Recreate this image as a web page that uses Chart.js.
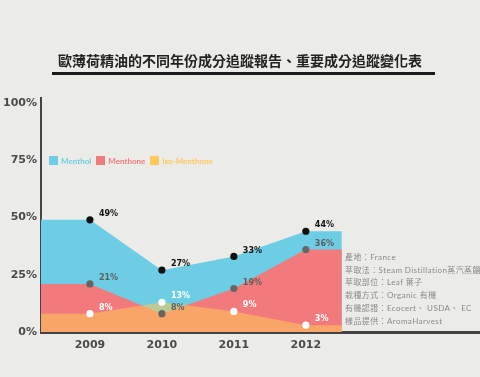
<!DOCTYPE html>
<html><head><meta charset="utf-8">
<script src="https://cdn.jsdelivr.net/npm/chart.js@4"></script>
<style>
html,body{margin:0;padding:0;background:#EBEBE7;}
#wrap{position:relative;width:480px;height:377px;overflow:hidden;background:#EBEBE7;}
canvas{position:absolute;left:0;top:0;}
#title{position:absolute;left:0;width:480px;top:50px;text-align:center;font:bold 14px "Noto Sans CJK TC";color:#222;line-height:20px;}
#uline{position:absolute;left:52px;top:72px;width:383px;height:3px;background:#1a1a1a;}
#legend{position:absolute;left:49px;top:155px;height:12px;font:bold 8px Lato,sans-serif;white-space:nowrap;}
#legend span.item{display:inline-block;margin-right:5px;line-height:12px;vertical-align:top;}
#legend span.sw{display:inline-block;width:9px;height:9px;margin-right:3px;vertical-align:-1px;}
#info{position:absolute;left:345px;top:251px;font:8px Lato,"Noto Sans CJK TC",sans-serif;color:#8a8a8a;line-height:12.7px;white-space:nowrap;letter-spacing:0.4px;}
</style></head>
<body>
<div id="wrap">
<canvas id="c" width="480" height="377"></canvas>
<div id="title"></div>
<div id="uline"></div>
<div id="legend"></div>
<div id="info"></div>
</div>
<script>
const titleText = '歐薄荷精油的不同年份成分追蹤報告、重要成分追蹤變化表';
const years = [2009, 2010, 2011, 2012];
const seriesNames = ['Menthol', 'Menthone', 'Iso-Menthone'];
const menthol = [49, 27, 33, 44];
const menthone = [21, 8, 19, 36];
const isoMenthone = [8, 13, 9, 3];
const yTicks = [0, 25, 50, 75, 100];
const infoLines = [
  '產地：France',
  '萃取法：Steam Distillation蒸汽蒸餾',
  '萃取部位：Leaf 葉子',
  '栽種方式：Organic 有機',
  '有機認證：Ecocert、 USDA、 EC',
  '樣品提供：AromaHarvest'
];

const fillColors = ['#6CCDE4', '#F27A7C', 'rgba(255,200,87,0.55)'];
const legendColors = ['#6CCDE4', '#F27A7C', '#FDC95C'];
const pointColors = ['#111111', '#666666', '#ffffff'];
const labelColors = ['#111111', '#5e5e5e', '#ffffff'];

const X_MIN = 2008.32, X_AREA_END = 2012.5, X_MAX = 2014.42;

document.getElementById('title').textContent = titleText;
document.getElementById('info').innerHTML = infoLines.map(s => '<div>' + s + '</div>').join('');
document.getElementById('legend').innerHTML = seriesNames.map((n, i) =>
  '<span class="item" style="color:' + legendColors[i] + '"><span class="sw" style="background:' + legendColors[i] + '"></span>' + n + '</span>'
).join('');

function build(vals) {
  const pts = years.map((yr, i) => ({x: yr, y: vals[i]}));
  return [{x: X_MIN, y: vals[0]}].concat(pts, [{x: X_AREA_END, y: vals[vals.length - 1]}]);
}
const radii = [0].concat(years.map(() => 3.6), [0]);

const allSeries = [menthol, menthone, isoMenthone];
const datasets = allSeries.map((vals, i) => ({
  label: seriesNames[i],
  data: build(vals),
  fill: 'origin',
  backgroundColor: fillColors[i],
  borderWidth: 0,
  borderColor: 'rgba(0,0,0,0)',
  pointRadius: radii,
  pointBackgroundColor: pointColors[i],
  pointBorderWidth: 0,
  tension: 0,
  order: 3 - i
}));

const labelPlugin = {
  id: 'vals',
  afterDatasetsDraw(chart) {
    const ctx = chart.ctx;
    ctx.save();
    ctx.font = 'bold 8px "DejaVu Sans"';
    ctx.textAlign = 'left';
    ctx.textBaseline = 'middle';
    chart.data.datasets.forEach((ds, di) => {
      const meta = chart.getDatasetMeta(di);
      years.forEach((yr, i) => {
        const el = meta.data[i + 1];
        ctx.fillStyle = labelColors[di];
        ctx.fillText(allSeries[di][i] + '%', el.x + 9, el.y - 6);
      });
    });
    ctx.restore();
  }
};

new Chart(document.getElementById('c'), {
  type: 'line',
  data: {datasets},
  plugins: [labelPlugin],
  options: {
    responsive: false,
    animation: false,
    devicePixelRatio: 1,
    layout: {padding: {top: 98, left: 0, right: 0, bottom: 0}},
    plugins: {legend: {display: false}, tooltip: {enabled: false}, filler: {drawTime: 'beforeDatasetsDraw'}},
    scales: {
      x: {
        type: 'linear', min: X_MIN, max: X_MAX,
        grid: {display: false, drawTicks: false},
        border: {display: true, color: '#444', width: 3},
        afterBuildTicks: s => { s.ticks = years.map(v => ({value: v})); },
        afterFit: s => { s.height = 45; },
        ticks: {autoSkip: false, maxRotation: 0, padding: 7, color: '#4a4a4a', font: {family: 'DejaVu Sans', weight: 'bold', size: 11}, callback: v => String(v)}
      },
      y: {
        min: 0, max: 102.2,
        grid: {display: false, drawTicks: false},
        border: {display: true, color: '#444', width: 2},
        afterBuildTicks: s => { s.ticks = yTicks.map(v => ({value: v})); },
        afterFit: s => { s.width = 41; },
        ticks: {padding: 4, color: '#4a4a4a', font: {family: 'DejaVu Sans', weight: 'bold', size: 11}, callback: v => v + '%'}
      }
    }
  }
});
</script>
</body></html>
